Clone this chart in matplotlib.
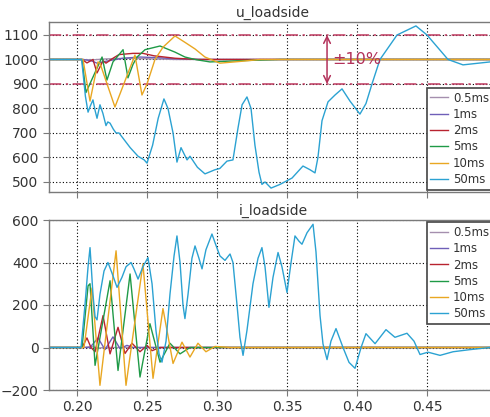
import matplotlib
matplotlib.use("Agg")
import matplotlib.pyplot as plt

# ---------------- data ----------------
labels = ["0.5ms", "1ms", "2ms", "5ms", "10ms", "50ms"]
colors = ["#a58fae", "#6f5fb8", "#b8232f", "#1f9a47", "#e9a722", "#2ba2d2"]

# voltage u_loadside
t_u05 = [0.18, 0.2036, 0.210, 0.220, 0.235, 0.250, 0.270, 0.50]
u_05 = [1000, 1000, 998, 1002, 1005, 1003, 1000, 1000]

t_u1 = [0.18, 0.2036, 0.2100, 0.2143, 0.2200, 0.2257, 0.2329, 0.245, 0.255, 0.270, 0.290, 0.50]
u_1 = [1000, 1000, 995, 985, 992, 998, 1005, 1010, 1008, 1003, 1000, 1000]

t_u2 = [0.18, 0.2036, 0.2071, 0.2114, 0.2143, 0.2186, 0.2207, 0.2257, 0.2300, 0.2400, 0.2471, 0.2550, 0.2700, 0.2864, 0.50]
u_2 = [1000, 1000, 986, 1000, 945, 995, 985, 1005, 1020, 1025, 1025, 1015, 1005, 1000, 1000]

t_u5 = [0.18, 0.2036, 0.2064, 0.2179, 0.2214, 0.2257, 0.2329, 0.2364, 0.2400, 0.2429, 0.2486,
        0.2593, 0.2700, 0.2771, 0.2843, 0.2950, 0.3164, 0.3450, 0.50]
u_5 = [1000, 1000, 865, 1010, 916, 990, 1040, 925, 980, 1010, 1040,
       1055, 1030, 1010, 1000, 990, 995, 1000, 1000]

t_u10 = [0.18, 0.2043, 0.2093, 0.2150, 0.2164, 0.2271, 0.2414, 0.2464, 0.2500, 0.2557, 0.2614,
         0.2700, 0.2771, 0.2843, 0.2914, 0.3021, 0.3164, 0.3307, 0.50]
u_10 = [1000, 1000, 830, 990, 985, 806, 1018, 855, 900, 1000, 1050,
        1096, 1070, 1043, 1010, 985, 992, 1000, 1000]

t_u50 = [0.18, 0.2033, 0.2060, 0.2079, 0.2095, 0.2114, 0.2130, 0.2143, 0.2164, 0.2185, 0.2207,
         0.2220, 0.2236, 0.2260, 0.2279, 0.2300, 0.2340, 0.2380, 0.2436, 0.2480, 0.2500,
         0.2540, 0.2580, 0.2621, 0.2650, 0.2686, 0.2714, 0.2743, 0.2786, 0.2807, 0.2860,
         0.2914, 0.2986, 0.3020, 0.3071, 0.3114, 0.3150, 0.3179, 0.3214, 0.3243, 0.3271,
         0.3300, 0.3321, 0.3343, 0.3386, 0.3450, 0.3536, 0.3614, 0.3664, 0.3700, 0.3721,
         0.3750, 0.3793, 0.3843, 0.3893, 0.3950, 0.4021, 0.4064, 0.4107, 0.4164, 0.4286,
         0.4421, 0.4500, 0.4650, 0.4757, 0.4950, 0.50]
u_50 = [1000, 1000, 850, 785, 810, 835, 790, 760, 815, 780, 730,
        745, 740, 715, 700, 700, 670, 640, 605, 590, 577,
        650, 760, 839, 800, 700, 581, 640, 590, 605, 560,
        533, 550, 555, 585, 590, 720, 815, 847, 800, 650,
        540, 490, 500, 475, 490, 516, 565, 550, 537, 600,
        750, 827, 855, 880, 830, 777, 820, 900, 1000, 1100,
        1137, 1100, 1000, 978, 990, 990]

# current i_loadside
t_i05 = [0.18, 0.2050, 0.2100, 0.2150, 0.2200, 0.50]
i_05 = [0, 0, 5, -3, 0, 0]

t_i1 = [0.18, 0.2093, 0.2150, 0.2200, 0.2257, 0.2307, 0.2357, 0.2400, 0.50]
i_1 = [0, 0, 45, -10, 50, -5, 10, 0, 0]

t_i2 = [0.18, 0.2036, 0.2071, 0.2100, 0.2129, 0.2186, 0.2236, 0.2293, 0.2343, 0.2393,
        0.2450, 0.2500, 0.2536, 0.2593, 0.50]
i_2 = [0, 0, 45, 0, -20, 150, -30, 95, -28, 20,
       -20, 10, -15, 0, 0]

t_i5 = [0.18, 0.2036, 0.2079, 0.2093, 0.2129, 0.2236, 0.2293, 0.2379, 0.2450, 0.2521,
        0.2593, 0.2664, 0.2736, 0.2807, 0.2900, 0.50]
i_5 = [0, 0, 290, 300, -84, 314, -108, 346, -139, 112,
       -69, 20, -30, 0, 0, 0]

t_i10 = [0.18, 0.2050, 0.2107, 0.2164, 0.2279, 0.2350, 0.2471, 0.2543, 0.2614, 0.2686,
         0.2750, 0.2807, 0.2864, 0.2921, 0.2986, 0.3093, 0.50]
i_10 = [0, 0, 280, -178, 455, -178, 393, -145, 183, -75,
        25, -45, 20, -20, 5, 0, 0]

t_i50 = [0.18, 0.2029, 0.2057, 0.2079, 0.2093, 0.2100, 0.2114, 0.2129, 0.2143, 0.2164,
         0.2193, 0.2221, 0.2250, 0.2286, 0.2321, 0.2350, 0.2386, 0.2407, 0.2436, 0.2471,
         0.2507, 0.2536, 0.2564, 0.2586, 0.2607, 0.2636, 0.2664, 0.2693, 0.2714, 0.2736,
         0.2757, 0.2771, 0.2793, 0.2821, 0.2843, 0.2871, 0.2893, 0.2921, 0.2964, 0.2993,
         0.3021, 0.3057, 0.3093, 0.3114, 0.3143, 0.3164, 0.3186, 0.3214, 0.3257, 0.3293,
         0.3321, 0.3343, 0.3371, 0.3400, 0.3436, 0.3464, 0.3500, 0.3529, 0.3557, 0.3586,
         0.3607, 0.3643, 0.3686, 0.3707, 0.3736, 0.3757, 0.3786, 0.3814, 0.3850, 0.3900,
         0.3943, 0.3986, 0.4029, 0.4064, 0.4129, 0.4207, 0.4271, 0.4357, 0.4407, 0.4450,
         0.4507, 0.4593, 0.4686, 0.4807, 0.4950, 0.50]
i_50 = [0, 0, 200, 380, 470, 400, 250, 145, 130, 250,
        360, 400, 350, 283, 330, 380, 400, 370, 322, 380,
        423, 300, 80, -30, -69, 30, 250, 430, 525, 400,
        200, 136, 250, 420, 478, 420, 370, 460, 534, 480,
        431, 410, 440, 400, 200, 48, -37, 80, 300, 420,
        470, 380, 189, 330, 447, 380, 259, 400, 525, 500,
        486, 540, 580, 450, 150, 17, -57, 30, 89, 0,
        -70, -98, 0, 65, 18, 84, 48, 67, 30, -33,
        -22, -37, -20, -10, 0, 0]

u_series = [(t_u05, u_05), (t_u1, u_1), (t_u2, u_2), (t_u5, u_5), (t_u10, u_10), (t_u50, u_50)]
i_series = [(t_i05, i_05), (t_i1, i_1), (t_i2, i_2), (t_i5, i_5), (t_i10, i_10), (t_i50, i_50)]

x_ticks = [0.20, 0.25, 0.30, 0.35, 0.40, 0.45]
u_ticks = [500, 600, 700, 800, 900, 1000, 1100]
i_ticks = [-200, 0, 200, 400, 600]
limit_levels = [900, 1100]

# ---------------- figure ----------------
plt.rcParams['font.family'] = ['DejaVu Sans']
fig = plt.figure(figsize=(4.9, 4.17), dpi=100)
W, H = 490, 417
ax1 = fig.add_axes([49 / W, (H - 192) / H, 448 / W, 170 / H])
ax2 = fig.add_axes([49 / W, (H - 390) / H, 448 / W, 170 / H])

spine_col = "#7a7a7a"
txt_col = "#333333"

for ax, series, title, ylim, yt in [
        (ax1, u_series, "u_loadside", (459, 1153), u_ticks),
        (ax2, i_series, "i_loadside", (-200, 600), i_ticks)]:
    for (tt, vv), c, lab in zip(series, colors, labels):
        ax.plot(tt, vv, color=c, lw=1.0, label=lab)
    ax.set_xlim(0.18, 0.50)
    ax.set_ylim(*ylim)
    ax.set_xticks(x_ticks)
    ax.set_yticks(yt)
    ax.grid(True, color="black", linestyle=(0, (1, 2)), linewidth=0.8)
    ax.set_axisbelow(True)
    for s in ax.spines.values():
        s.set_color(spine_col)
        s.set_linewidth(1.0)
    ax.tick_params(colors=txt_col, labelsize=10, length=4, color=spine_col)
    ax.set_title(title, fontsize=10, color=txt_col, pad=4)

ax1.tick_params(axis='x', labelbottom=False)
ax2.set_xticklabels([f"{v:.2f}" for v in x_ticks])

# limit lines
for lv in limit_levels:
    ax1.axhline(lv, color="#c03a60", lw=1.1, linestyle=(0, (8, 3, 1.5, 3)), zorder=1.5)

ax1.annotate("", xy=(0.3786, 1100), xytext=(0.3786, 900),
             arrowprops=dict(arrowstyle="<->", color="#b3315a", lw=1.1,
                             shrinkA=0, shrinkB=0, mutation_scale=12))
ax1.text(0.3825, 1000, "±10%", color="#b3315a", fontsize=11.5, va="center", ha="left")

# legends
leg_kw = dict(fontsize=8.5, frameon=True, fancybox=False, handlelength=1.5,
              borderpad=0.3, labelspacing=0.28, handletextpad=0.4, borderaxespad=0.2)
leg1 = ax1.legend(loc="lower left", bbox_to_anchor=(0.838, 0.0), **leg_kw)
leg2 = ax2.legend(loc="upper left", bbox_to_anchor=(0.838, 1.0), **leg_kw)
for leg in (leg1, leg2):
    fr = leg.get_frame()
    fr.set_edgecolor("#444444")
    fr.set_linewidth(1.2)
    fr.set_alpha(1.0)
    for t in leg.get_texts():
        t.set_color(txt_col)

fig.savefig("out.png", dpi=100)
